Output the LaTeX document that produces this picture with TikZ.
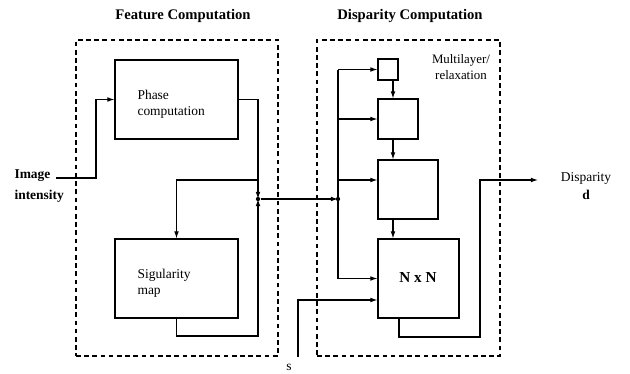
\documentclass[tikz,border=0pt]{standalone}
\usepackage{fontspec}
\setmainfont{Liberation Serif}
\usetikzlibrary{arrows.meta,fit}
\tikzset{
  block/.style={draw, inner sep=0pt},
  group/.style={draw, dash pattern=on 4pt off 3pt, inner sep=0pt},
  flow/.style={-{Latex[length=6pt,width=4pt]}},
  lbl/.style={inner sep=0pt, align=left, font=\fontsize{11.5}{14}\selectfont},
  heading/.style={inner sep=0pt, font=\fontsize{12.5}{15}\selectfont\bfseries},
  joint/.style={circle, fill, inner sep=1.3pt}
}
\begin{document}
\begin{tikzpicture}[x=0.03cm, y=-0.03cm, line width=0.9pt]
    \useasboundingbox (0, 0) rectangle (630, 374);
    % dashed groups and headings
    \node[group, fit={(76, 40) (278, 356)}] (feat) {};
    \node[group, fit={(317, 40) (500, 356)}] (disp) {};
    \node[heading] (feathead) at (183, 16) {Feature Computation};
    \node[heading] (disphead) at (410, 16) {Disparity Computation};

    % feature computation
    \node[block, fit={(115, 60) (238, 139)}] (phase) {};
    \node[block, fit={(115, 239) (238, 318)}] (sing) {};
    \node[lbl, anchor=west] (phasetxt) at (137, 104) {Phase\\computation};
    \node[lbl, anchor=west] (singtxt) at (137, 283) {Sigularity\\map};

    % disparity computation
    \node[block, fit={(378, 59) (398, 80)}] (layA) {};
    \node[block, fit={(378, 99) (418, 139)}] (layB) {};
    \node[block, fit={(378, 160) (438, 219)}] (layC) {};
    \node[block, fit={(378, 239) (459, 318)}] (layD) {};
    \node[inner sep=0pt, font=\fontsize{13}{15}\selectfont\bfseries] (nxn) at (418, 278) {N x N};
    \node[lbl, align=center, font=\fontsize{11}{13.5}\selectfont] (multi) at (461, 67) {Multilayer/\\relaxation};

    % inputs and outputs
    \node[lbl, anchor=west, font=\fontsize{11.5}{14}\selectfont\bfseries] (imgtxt) at (14, 186) {Image\\[4pt]intensity};
    \node[lbl, align=center] (outtxt) at (586, 186) {Disparity\\[2pt]\textbf{d}};
    \node[lbl] (stxt) at (289, 367) {s};
    \coordinate (imgout) at (56, 178);
    \coordinate (sin) at (298, 357);
    \coordinate (dout) at (538, 180);
    \node[joint] (jn) at (258, 199) {};
    \node[joint] (bus) at (338, 199) {};

    % feature connectors
    \draw[flow] (imgout) -- (96, 178) -- (96, 99.5) -- (phase.west);
    \draw[flow] (phase.east) -- (258, 99.5) -- (jn.center);
    \draw[flow] (258, 180) -- (176.5, 180) -- (sing.north);
    \draw[flow] (sing.south) -- (176.5, 336) -- (258, 336) -- (jn.center);
    \draw[flow] (jn) -- (bus.center);

    % disparity connectors
    \draw (338, 70) -- (338, 279);
    \draw[flow] (338, 69.5) -- (layA.west);
    \draw[flow] (338, 119) -- (layB.west);
    \draw[flow] (338, 180) -- (layC.west |- 0, 180);
    \draw[flow] (338, 278.5) -- (layD.west);
    \draw[flow] (layA.south -| 393, 0) -- (layB.north -| 393, 0);
    \draw[flow] (layB.south -| 393, 0) -- (layC.north -| 393, 0);
    \draw[flow] (layC.south -| 393, 0) -- (layD.north -| 393, 0);
    \draw[flow] (sin) -- (298, 300) -- (layD.west |- 0, 300);
    \draw[flow] (layD.south -| 399, 0) -- (399, 337) -- (480, 337) -- (480, 180) -- (dout);
\end{tikzpicture}
\end{document}
